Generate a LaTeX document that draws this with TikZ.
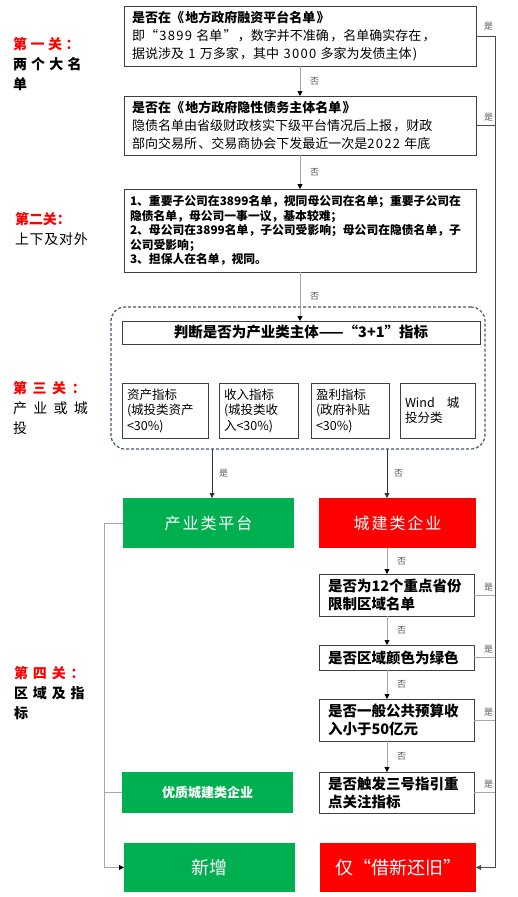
\documentclass[tikz,border=0pt]{standalone}
\usepackage{fontspec}
\setmainfont{Noto Sans CJK SC}
\usetikzlibrary{calc, arrows.meta}
\XeTeXlinebreaklocale "zh"

\definecolor{okgreen}{HTML}{00B050}
\definecolor{warnred}{HTML}{FF0000}
\definecolor{grpblue}{HTML}{44546A}
\newcommand{\fs}[2]{\fontsize{#1}{#2}\selectfont}
\newcommand{\ls}[2]{{\addfontfeature{LetterSpace=#1}#2}}
\newcommand{\bls}[2]{{\addfontfeature{LetterSpace=#1}\bfseries #2}}
\newcommand{\gatehead}[2]{{\color{warnred}\addfontfeature{LetterSpace=#1}\bfseries #2}}

\begin{document}
\begin{tikzpicture}[x=1pt, y=-1pt,
  every node/.append style={outer sep=0pt},
  qbox/.style={draw=black!75, line width=1pt, fill=white, align=left, inner xsep=8pt, inner ysep=2pt, text width=336pt, font=\fs{13}{18}\addfontfeature{LetterSpace=10}},
  ibox/.style={draw=black!75, line width=1pt, fill=white, align=left, inner xsep=5pt, minimum height=55pt, font=\fs{12.5}{15.5}},
  rbox/.style={draw=black!75, line width=1pt, fill=white, align=left, inner xsep=9pt, text width=137pt, font=\fs{14.5}{18}\bfseries},
  okbox/.style={fill=okgreen, text=white, minimum width=171pt, align=center},
  nobox/.style={fill=warnred, text=white, minimum width=157pt, align=center},
  gate/.style={anchor=west, align=left, inner sep=0pt, font=\fs{14}{20}},
  yn/.style={font=\fs{9}{10}, text=black!65, inner sep=1pt},
  yes/.style={yn, anchor=south east, xshift=-1pt, yshift=3pt},
  link/.style={draw=black!35, line width=0.8pt, -{Triangle[length=5pt, width=5pt, color=black]}},
  dlink/.style={draw=black!80, line width=0.9pt, -{Triangle[length=5pt, width=5pt]}},
  plain/.style={draw=black!35, line width=0.8pt},
  bus/.style={draw=black!70, line width=0.9pt},
]
\useasboundingbox (0,0) rectangle (517,897);

%% ─── left column: the four gates ────────────────────────────────────────────
\node[gate] (g1) at (13, 64)  {\gatehead{25}{第一关：}\\\bls{30}{两个大名}\\\bfseries 单};
\node[gate] (g2) at (15, 229) {\gatehead{0}{第二关：}\\\ls{5}{上下及对外}};
\node[gate] (g3) at (13, 408) {\gatehead{40}{第三关：}\\\ls{45}{产业或城}\\投};
\node[gate] (g4) at (14, 693) {\gatehead{35}{第四关：}\\\bls{35}{区域及指}\\\bfseries 标};

%% ─── gate 1 and 2: lists ────────────────────────────────────────────────────
\node[qbox, minimum height=60pt] (q1) at (300, 36)
  {{\bfseries 是否在《地方政府融资平台名单》}\\
   即“3899 名单”，数字并不准确，名单确实存在，\\
   据说涉及 1 万多家，其中 3000 多家为发债主体)};
\node[qbox, minimum height=59pt] (q2) at (300, 125.5)
  {{\bfseries 是否在《地方政府隐性债务主体名单》}\\
   隐债名单由省级财政核实下级平台情况后上报，财政\\
   部向交易所、交易商协会下发最近一次是2022 年底};
\node[qbox, minimum height=83pt, inner xsep=6pt, text width=340pt, font=\fs{11.8}{14.5}\bfseries] (q3) at (300, 230.5)
  {1、重要子公司在3899名单，视同母公司在名单；重要子公司在\\
   隐债名单，母公司一事一议，基本较难；\\
   2、母公司在3899名单，子公司受影响；母公司在隐债名单，子\\
   公司受影响；\\
   3、担保人在名单，视同。};
\draw[link] (q1.south) -- (q2.north) node[yn, midway, right=9pt] (n1) {否};
\draw[link] (q2.south) -- (q3.north) node[yn, midway, right=9pt] (n2) {否};

%% ─── gate 3: "3+1" indicators ───────────────────────────────────────────────
\node[draw=grpblue, line width=1.2pt, dash pattern=on 3pt off 2pt, rounded corners=14pt,
      minimum width=374pt, minimum height=142pt] (grp) at (298, 378) {};
\node[draw=black!75, line width=1pt, fill=white, minimum width=358pt, minimum height=23pt,
      font=\fs{14.5}{16}\bfseries] (hdr) at (301, 332.5) {判断是否为产业类主体——“3+1”指标};
\node[ibox, text width=76pt] (ia) at (165, 410.5)   {资产指标\\(城投类资产\\<30\%)};
\node[ibox, text width=69pt] (ib) at (258.5, 410.5) {收入指标\\(城投类收\\入<30\%)};
\node[ibox, text width=68pt] (ic) at (350, 410.5)   {盈利指标\\(政府补贴\\<30\%)};
\node[ibox, text width=65pt] (id) at (437.5, 410.5) {Wind\hspace{12pt}城\\投分类};
\draw[link] (q3.south) -- (q3.south |- hdr.north) node[yn, midway, right=9pt] (n3) {否};

%% ─── gate 3 outcome ─────────────────────────────────────────────────────────
\coordinate (lx) at (212, 0);
\coordinate (rx) at (387, 0);
\node[okbox, minimum height=50pt, font=\fs{16}{18}] (cyp) at (208.5, 523) {\ls{12}{产业类平台}};
\node[nobox, minimum height=50pt, font=\fs{16}{18}] (cjs) at (397.5, 523) {\ls{12}{城建类企业}};
\draw[dlink] (grp.south -| lx) -- (cyp.north -| lx) node[yn, midway, right=6pt] (n4) {是};
\draw[dlink] (grp.south -| rx) -- (cjs.north -| rx) node[yn, midway, right=6pt] (n5) {否};

%% ─── gate 4: region and indicators ──────────────────────────────────────────
\node[rbox, minimum height=42pt] (r1) at (396.5, 595)   {是否为12个重点省份\\限制区域名单};
\node[rbox, minimum height=25pt] (r2) at (396.5, 657.5) {是否区域颜色为绿色};
\node[rbox, minimum height=42pt] (r3) at (396.5, 720)   {是否一般公共预算收\\入小于50亿元};
\node[rbox, minimum height=41pt] (r4) at (396.5, 792.5) {是否触发三号指引重\\点关注指标};
\draw[link] (cjs.south -| rx) -- (r1.north -| rx) node[yn, midway, right=9pt] (n6) {否};
\draw[link] (r1.south -| rx) -- (r2.north -| rx) node[yn, midway, right=9pt] (n7) {否};
\draw[link] (r2.south -| rx) -- (r3.north -| rx) node[yn, midway, right=9pt] (n8) {否};
\draw[link] (r3.south -| rx) -- (r4.north -| rx) node[yn, midway, right=9pt] (n9) {否};

\node[okbox, minimum height=41pt, font=\fs{13}{16}\bfseries] (yz) at (207.5, 792.5) {优质城建类企业};
\node[okbox, minimum height=49pt, font=\fs{18}{20}] (xz) at (209.5, 867.5) {新增};
\node[nobox, minimum width=156pt, minimum height=49pt, font=\fs{18}{20}] (jx) at (398, 867.5) {仅“借新还旧”};

%% ─── right bus: every "yes" ends in jx ──────────────────────────────────────
\coordinate (rb) at (495, 0);
\draw[bus, -{Triangle[length=5pt, width=5pt]}] (q1.east) -- (q1.east -| rb) |- (jx.east);
\node[yes, yshift=2pt] (y1) at (q1.east -| rb) {是};
\draw[bus] (q2.east) -- (q2.east -| rb) node[yes, pos=1] (y2) {是};
\draw[plain] (r1.east) -- (r1.east -| rb) node[yes, pos=1] (y3) {是};
\draw[plain] (r2.east) -- (r2.east -| rb) node[yes, pos=1] (y4) {是};
\draw[plain] (r3.east) -- (r3.east -| rb) node[yes, pos=1] (y5) {是};
\draw[plain] (r4.east) -- (r4.east -| rb) node[yes, pos=1] (y6) {是};

%% ─── left bus: into "新增" ──────────────────────────────────────────────────
\coordinate (lb) at (104, 0);
\draw[plain, -{Triangle[length=5pt, width=5pt, color=black]}] (cyp.west) -- (cyp.west -| lb) |- (xz.west);
\draw[plain] (yz.west) -- (yz.west -| lb);

\end{tikzpicture}
\end{document}
